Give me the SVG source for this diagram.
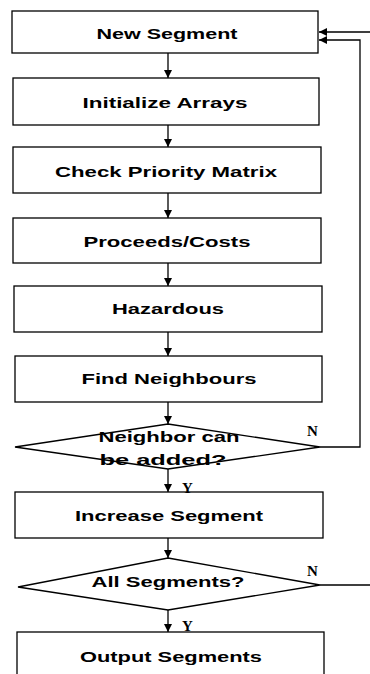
<svg xmlns="http://www.w3.org/2000/svg" width="370" height="674" viewBox="0 0 370 674">
<style>
.box{fill:#fff;stroke:#000;stroke-width:1.3}
.lbl{font-family:"Liberation Sans",Arial,sans-serif;font-weight:bold;font-size:15px;fill:#000;text-anchor:middle}
.yn{font-family:"Liberation Serif","Times New Roman",serif;font-weight:bold;font-size:15px;fill:#000}
.ln{fill:none;stroke:#000;stroke-width:1.3}
</style>
<defs>
<marker id="ah" viewBox="0 0 10 10" refX="10" refY="5" markerWidth="8" markerHeight="8" markerUnits="userSpaceOnUse" orient="auto">
<path d="M0,0 L10,5 L0,10 z" fill="#000"/>
</marker>
</defs>
<rect width="370" height="674" fill="#fff"/>
<g id="connectors">
<line class="ln" x1="168" y1="53" x2="168" y2="78" marker-end="url(#ah)"/>
<line class="ln" x1="168" y1="125" x2="168" y2="147" marker-end="url(#ah)"/>
<line class="ln" x1="168" y1="193" x2="168" y2="218" marker-end="url(#ah)"/>
<line class="ln" x1="168" y1="263" x2="168" y2="286" marker-end="url(#ah)"/>
<line class="ln" x1="168" y1="332" x2="168" y2="356" marker-end="url(#ah)"/>
<line class="ln" x1="168" y1="402" x2="168" y2="424" marker-end="url(#ah)"/>
<line class="ln" x1="168" y1="469" x2="168" y2="492" marker-end="url(#ah)"/>
<line class="ln" x1="168" y1="538" x2="168" y2="558" marker-end="url(#ah)"/>
<line class="ln" x1="168" y1="610" x2="168" y2="632" marker-end="url(#ah)"/>
<polyline class="ln" points="320,447 360,447 360,40 319,40" marker-end="url(#ah)"/>
<polyline class="ln" points="320,585 375,585 375,32 319,32" marker-end="url(#ah)"/>
</g>
<g id="n1"><rect class="box" x="12" y="11" width="306" height="42"/><text class="lbl" x="167" y="39" textLength="141" lengthAdjust="spacingAndGlyphs">New Segment</text></g>
<g id="n2"><rect class="box" x="13" y="78" width="306" height="47"/><text class="lbl" x="165" y="108" textLength="165" lengthAdjust="spacingAndGlyphs">Initialize Arrays</text></g>
<g id="n3"><rect class="box" x="13" y="147" width="308" height="46"/><text class="lbl" x="166" y="177" textLength="222" lengthAdjust="spacingAndGlyphs">Check Priority Matrix</text></g>
<g id="n4"><rect class="box" x="13" y="218" width="308" height="45"/><text class="lbl" x="167" y="247" textLength="167" lengthAdjust="spacingAndGlyphs">Proceeds/Costs</text></g>
<g id="n5"><rect class="box" x="14" y="286" width="308" height="46"/><text class="lbl" x="168" y="314" textLength="112" lengthAdjust="spacingAndGlyphs">Hazardous</text></g>
<g id="n6"><rect class="box" x="15" y="356" width="307" height="46"/><text class="lbl" x="169" y="384" textLength="175" lengthAdjust="spacingAndGlyphs">Find Neighbours</text></g>
<g id="d1"><polygon class="box" points="168,424 320,447 168,469 15,447"/><text class="lbl" x="169" y="442" textLength="141" lengthAdjust="spacingAndGlyphs">Neighbor can</text><text class="lbl" x="163" y="465" textLength="127" lengthAdjust="spacingAndGlyphs">be added?</text></g>
<g id="n7"><rect class="box" x="15" y="492" width="308" height="46"/><text class="lbl" x="169" y="521" textLength="188" lengthAdjust="spacingAndGlyphs">Increase Segment</text></g>
<g id="d2"><polygon class="box" points="168,558 320,585 168,610 18,587"/><text class="lbl" x="168" y="587" textLength="153" lengthAdjust="spacingAndGlyphs">All Segments?</text></g>
<g id="n8"><rect class="box" x="17" y="632" width="307" height="50"/><text class="lbl" x="171" y="662" textLength="182" lengthAdjust="spacingAndGlyphs">Output Segments</text></g>
<g id="labels">
<text class="yn" x="307" y="436">N</text>
<text class="yn" x="182" y="493">Y</text>
<text class="yn" x="307" y="576">N</text>
<text class="yn" x="182" y="631">Y</text>
</g>
</svg>
